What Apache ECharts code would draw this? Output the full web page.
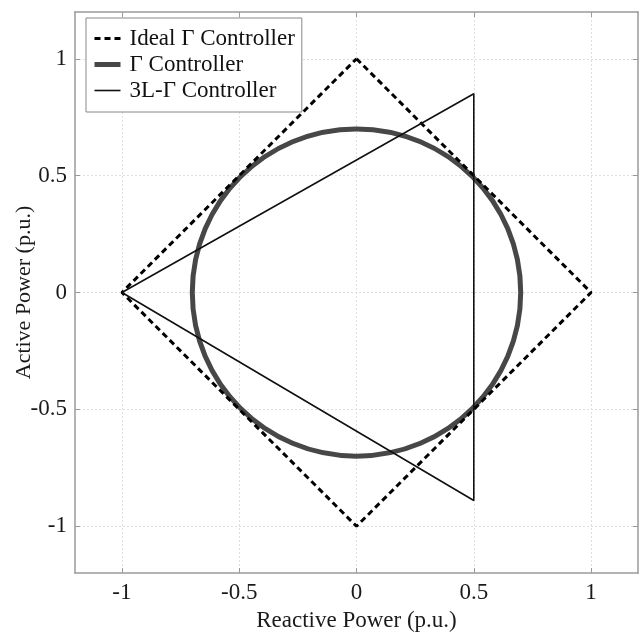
<!DOCTYPE html>
<html>
<head>
<meta charset="utf-8">
<script src="https://cdn.jsdelivr.net/npm/echarts@6/dist/echarts.min.js"></script>
<style>
  html, body { margin: 0; padding: 0; background: #fff; }
  #chart { width: 643px; height: 633px; }
</style>
</head>
<body>
<div id="chart"></div>
<script>
// ideal controller: diamond (reactive q, active p)
var idealQ = [0, 1, 0, -1, 0];
var idealP = [1, 0, -1, 0, 1];
// 3L controller: triangle
var threeLQ = [-1, 0.5, 0.5, -1];
var threeLP = [0, 0.85, -0.89, 0];
// gamma controller: circle centre + radius
var gammaQ = [0];
var gammaP = [0];
var gammaR = [0.7];
var tickValues = [-1, -0.5, 0, 0.5, 1];
var axisMin = -1.2, axisMax = 1.2;

function pairs(xs, ys) {
    return xs.map(function (x, i) { return [x, ys[i]]; });
}

var serif = "'Liberation Serif', 'Times New Roman', serif";
var frameColor = '#9a9a9a';
var idealStyle = { color: '#000', width: 3, type: [6, 4] };
var gammaStyle = { color: '#474747', width: 5 };
var threeLStyle = { color: '#111', width: 1.6 };

function mainAxis(name, pos, gap, nameSize) {
    return {
        type: 'value',
        position: pos,
        min: axisMin,
        max: axisMax,
        name: name,
        nameLocation: 'middle',
        nameGap: gap,
        nameMoveOverlap: false,
        nameTextStyle: { fontFamily: serif, fontSize: nameSize, color: '#1a1a1a' },
        axisLine: { onZero: false, lineStyle: { color: frameColor, width: 1.5 } },
        axisTick: { inside: true, length: 5, customValues: tickValues, lineStyle: { color: frameColor } },
        axisLabel: {
            customValues: tickValues, margin: 8,
            fontFamily: serif, fontSize: 23, color: '#1a1a1a',
            formatter: function (v) { return String(v); }
        },
        splitLine: { show: true, customValues: tickValues, lineStyle: { color: '#dedede', type: [2, 2], width: 1 } }
    };
}

function sideAxis(pos) {
    return {
        type: 'value',
        position: pos,
        min: axisMin,
        max: axisMax,
        axisLine: { onZero: false, lineStyle: { color: frameColor, width: 1.5 } },
        axisTick: { inside: true, length: 5, customValues: tickValues, lineStyle: { color: frameColor } },
        axisLabel: { show: false },
        splitLine: { show: false }
    };
}

var chart = echarts.init(document.getElementById('chart'));
var option = {
    backgroundColor: '#fff',
    animation: false,
    grid: { left: 75, right: 5, top: 12, bottom: 60, outerBoundsMode: 'none', containLabel: false },
    legend: {
        orient: 'vertical',
        left: 86,
        top: 18,
        padding: [9, 7, 10, 6],
        itemWidth: 26,
        itemHeight: 14,
        itemGap: 3,
        itemStyle: { opacity: 0, borderWidth: 0 },
        borderColor: '#888',
        borderWidth: 1,
        backgroundColor: '#fff',
        textStyle: { fontFamily: serif, fontSize: 23, color: '#111', lineHeight: 20, padding: [0, 0, 0, 4] },
        data: [
            { name: 'Ideal Γ Controller', lineStyle: idealStyle },
            { name: 'Γ Controller', lineStyle: gammaStyle },
            { name: '3L-Γ Controller', lineStyle: threeLStyle }
        ]
    },
    xAxis: [mainAxis('Reactive Power (p.u.)', 'bottom', 36, 23), sideAxis('top')],
    yAxis: [mainAxis('Active Power (p.u.)', 'left', 40, 22), sideAxis('right')],
    series: [
        {
            name: 'Ideal Γ Controller',
            type: 'line',
            symbol: 'none',
            data: pairs(idealQ, idealP),
            lineStyle: idealStyle,
            itemStyle: { color: '#000' },
            z: 3
        },
        {
            // legend entry for the circle
            name: 'Γ Controller',
            type: 'line',
            symbol: 'none',
            data: [],
            lineStyle: gammaStyle,
            itemStyle: { color: '#474747' }
        },
        {
            name: 'Γ Controller',
            type: 'custom',
            data: gammaQ.map(function (q, i) { return [q, gammaP[i], gammaR[i]]; }),
            encode: { x: 0, y: 1 },
            itemStyle: { color: '#474747' },
            renderItem: function (params, api) {
                var c = api.coord([api.value(0), api.value(1)]);
                var r = api.size([api.value(2), api.value(2)]);
                return {
                    type: 'ellipse',
                    shape: { cx: c[0], cy: c[1], rx: r[0], ry: r[1] },
                    style: { fill: 'none', stroke: '#474747', lineWidth: 5 }
                };
            },
            z: 2
        },
        {
            name: '3L-Γ Controller',
            type: 'line',
            symbol: 'none',
            data: pairs(threeLQ, threeLP),
            lineStyle: threeLStyle,
            itemStyle: { color: '#111' },
            z: 4
        }
    ]
};
chart.setOption(option);
</script>
</body>
</html>
